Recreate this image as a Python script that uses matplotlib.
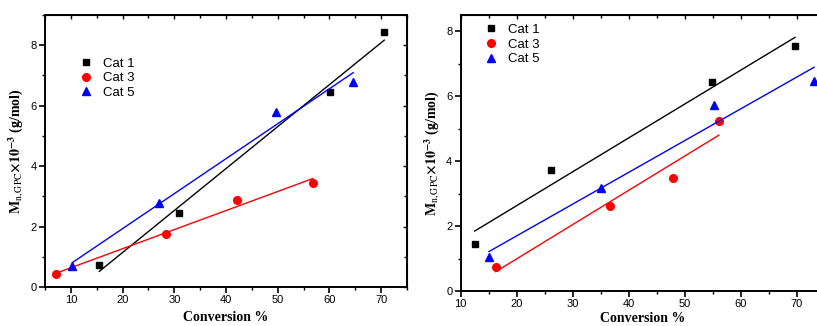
import numpy as np
import matplotlib
matplotlib.use("Agg")
import matplotlib.pyplot as plt
from matplotlib.ticker import MultipleLocator

plt.rcParams['font.family'] = ['Liberation Sans', 'DejaVu Sans']
plt.rcParams['mathtext.fontset'] = 'stix'

series = ["Cat 1", "Cat 3", "Cat 5"]
colors = ["black", "red", "blue"]
markers = ["s", "o", "^"]

# Left panel
left_x = [[15.5, 30.9, 60.1, 70.6],
          [7.2, 28.4, 42.1, 56.8],
          [10.3, 27.1, 49.6, 64.6]]
left_y = [[0.72, 2.44, 6.46, 8.43],
          [0.42, 1.75, 2.89, 3.45],
          [0.68, 2.77, 5.78, 6.78]]

# Right panel
right_x = [[12.5, 26.2, 54.8, 69.7],
           [16.25, 36.7, 47.9, 56.1],
           [15.06, 35.1, 55.2, 73.1]]
right_y = [[1.45, 3.73, 6.45, 7.56],
           [0.75, 2.63, 3.47, 5.23],
           [1.04, 3.16, 5.74, 6.48]]

W, H = 817, 326
fig = plt.figure(figsize=(W / 100, H / 100), dpi=100)

def px_axes(l, t, r, b):
    return fig.add_axes([l / W, 1 - b / H, (r - l) / W, (b - t) / H])

axL = px_axes(45, 15, 407, 287)
axR = px_axes(460.7, 15, 824.7, 291)

msize = {"s": 5.0, "o": 5.5, "^": 5.5}

def style(ax, xs_all, ys_all, xlim, ylim, legend_loc, xlabelpad):
    for i in range(3):
        xs, ys = xs_all[i], ys_all[i]
        ax.plot(xs, ys, linestyle='none', marker=markers[i], color=colors[i],
                markersize=msize[markers[i]], label=series[i])
        k, c = np.polyfit(xs, ys, 1)
        xx = np.array([min(xs), max(xs)])
        ax.plot(xx, k * xx + c, color=colors[i], linewidth=1.0)
    ax.set_xlim(*xlim)
    ax.set_ylim(*ylim)
    ax.xaxis.set_major_locator(MultipleLocator(10))
    ax.xaxis.set_minor_locator(MultipleLocator(5))
    ax.yaxis.set_major_locator(MultipleLocator(2))
    ax.yaxis.set_minor_locator(MultipleLocator(1))
    ax.tick_params(which='major', direction='out', length=4, width=1.2, labelsize=8, pad=2)
    ax.tick_params(which='minor', direction='out', length=2.5, width=1.0)
    for s in ax.spines.values():
        s.set_linewidth(1.4)
    top = ax.secondary_xaxis('top')
    top.xaxis.set_major_locator(MultipleLocator(10))
    top.xaxis.set_minor_locator(MultipleLocator(5))
    top.tick_params(which='both', direction='in', labeltop=False, width=1.0)
    top.tick_params(which='major', length=3)
    top.tick_params(which='minor', length=2)
    rt = ax.secondary_yaxis('right')
    rt.yaxis.set_major_locator(MultipleLocator(2))
    rt.yaxis.set_minor_locator(MultipleLocator(1))
    rt.tick_params(which='both', direction='in', labelright=False, width=1.0)
    rt.tick_params(which='major', length=3)
    rt.tick_params(which='minor', length=2)
    ax.set_xlabel('Conversion %', fontfamily='Liberation Serif', fontweight='bold',
                  fontsize=10, labelpad=xlabelpad)
    ax.set_ylabel(r'$\mathbf{M}_{\mathrm{n,GPC}}\mathbf{\times10^{-3}}$ (g/mol)',
                  fontfamily='Liberation Serif', fontweight='bold', fontsize=10, labelpad=3)
    ax.legend(loc='upper left', bbox_to_anchor=legend_loc, frameon=False, fontsize=9.5,
              handletextpad=0.9, labelspacing=0.18, handlelength=0.8, borderaxespad=0)

style(axL, left_x, left_y, (5, 75), (0, 9), ((75 - 45) / 362, 1 - (52 - 15) / 272), 4)
style(axR, right_x, right_y, (10, 75), (0, 8.5), ((480.5 - 460.7) / 364, 1 - (18.5 - 15) / 276), 2)

fig.savefig('out.png', dpi=100)
